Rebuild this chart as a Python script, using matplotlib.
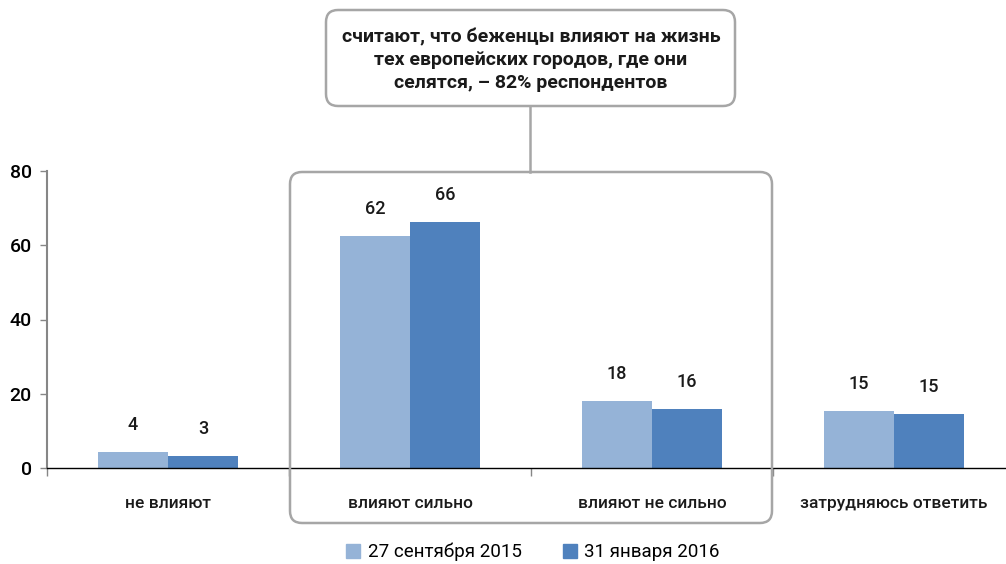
import matplotlib
matplotlib.use('Agg')
import matplotlib.pyplot as plt
from matplotlib.patches import FancyBboxPatch, Rectangle
from matplotlib.lines import Line2D
import numpy as np

plt.rcParams['font.family'] = ['Roboto', 'DejaVu Sans']

# данные
categories = ['не влияют', 'влияют сильно', 'влияют не сильно', 'затрудняюсь ответить']
sep2015 = [4.3, 62.4, 18.0, 15.4]
jan2016 = [3.2, 66.2, 15.9, 14.6]
labels2015 = ['4', '62', '18', '15']
labels2016 = ['3', '66', '16', '15']
series_names = ['27 сентября 2015', '31 января 2016']
callout = 'считают, что беженцы влияют на жизнь\nтех европейских городов, где они\nселятся, – 82% респондентов'

light = '#95B3D7'
dark = '#4F81BD'
gray = '#A6A6A6'

W, H = 1006, 564
fig = plt.figure(figsize=(W / 100, H / 100), dpi=100)

def fx(px):
    return px / W

def fy(py):
    return 1 - py / H

ax = fig.add_axes([fx(47), fy(468), fx(968), (468 - 171) / H])

x = np.arange(len(categories))
bw = 0.29
b1 = ax.bar(x - bw / 2, sep2015, bw, color=light, label=series_names[0])
b2 = ax.bar(x + bw / 2, jan2016, bw, color=dark, label=series_names[1])

for bars, labs in ((b1, labels2015), (b2, labels2016)):
    for rect, lab in zip(bars, labs):
        ax.annotate(lab, (rect.get_x() + rect.get_width() / 2, rect.get_height()),
                    xytext=(0, 13), textcoords='offset points', ha='center', va='bottom',
                    fontsize=13, fontweight='medium', color='#1a1a1a')

ax.set_xlim(-0.5, len(categories) - 0.5)
ax.set_ylim(0, 80)
ax.set_yticks([0, 20, 40, 60, 80])
ax.set_xticks(x)
ax.set_xticklabels(categories)
ax.set_xticks(np.arange(len(categories) + 1) - 0.5, minor=True)

ax.spines['top'].set_visible(False)
ax.spines['right'].set_visible(False)
ax.spines['left'].set_color('#868686')
ax.spines['left'].set_linewidth(1.5)
ax.spines['bottom'].set_color('black')
ax.spines['bottom'].set_linewidth(1)
ax.tick_params(axis='y', length=5, color='#868686', labelsize=14, pad=6, width=1)
ax.tick_params(axis='x', which='major', length=0, labelsize=12.5, pad=20)
ax.tick_params(axis='x', which='minor', length=6, color='#868686', width=1)
for t in ax.get_yticklabels():
    t.set_fontweight('medium')
for t in ax.get_xticklabels():
    t.set_fontweight('medium')
    t.set_color('#1a1a1a')

# рамка вокруг средних категорий
box = FancyBboxPatch((fx(290), fy(523)), fx(772 - 290), (523 - 172) / H,
                     boxstyle='round,pad=0,rounding_size=0.012',
                     transform=fig.transFigure, fill=False, edgecolor=gray, linewidth=1.8,
                     mutation_aspect=W / H)
fig.patches.append(box)

# выноска
cbox = FancyBboxPatch((fx(326), fy(106)), fx(735 - 326), (106 - 10) / H,
                      boxstyle='round,pad=0,rounding_size=0.012',
                      transform=fig.transFigure, facecolor='white', edgecolor=gray, linewidth=1.8,
                      mutation_aspect=W / H)
fig.patches.append(cbox)
fig.lines.append(Line2D([fx(530), fx(530)], [fy(106), fy(172)], transform=fig.transFigure,
                        color=gray, linewidth=1.8))
fig.text(fx(531), fy(60), callout, ha='center', va='center', fontsize=14,
         fontweight='bold', color='#1a1a1a', linespacing=1.32)

# легенда
fig.legend(handles=[Rectangle((0, 0), 1, 1, color=light), Rectangle((0, 0), 1, 1, color=dark)],
           labels=series_names, loc='center', bbox_to_anchor=(fx(533), fy(552)), ncol=2,
           frameon=False, fontsize=13.5, handlelength=0.75, handleheight=0.75,
           handletextpad=0.4, columnspacing=2.2)

fig.savefig('out.png', dpi=100)
